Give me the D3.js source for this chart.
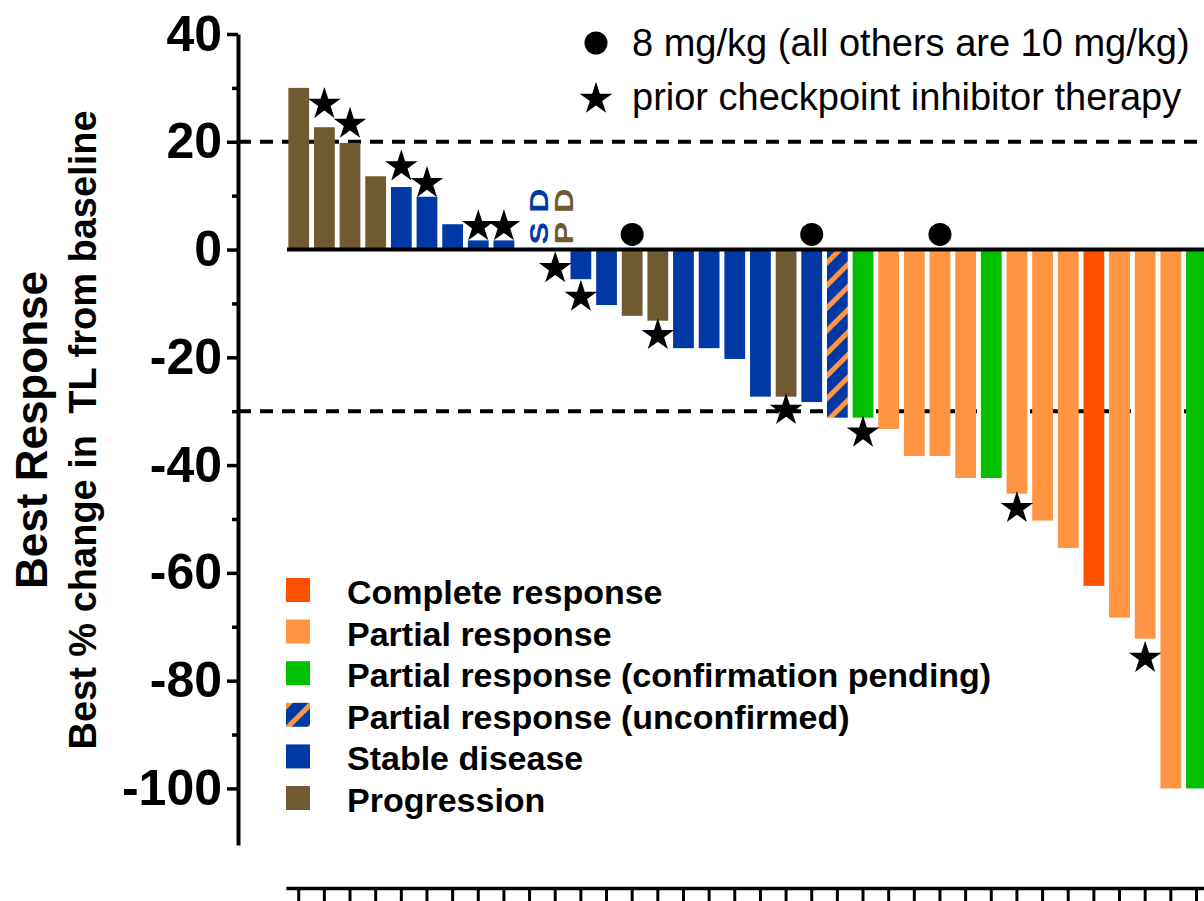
<!DOCTYPE html>
<html>
<head>
<meta charset="utf-8">
<script src="https://cdn.jsdelivr.net/npm/d3@7"></script>
<style>
  body { margin: 0; background: #fff; }
  text { font-family: Arial, "Liberation Sans", sans-serif; }
</style>
</head>
<body>
<div id="chart"></div>
<script>
// best % change per patient, left to right
var values = [30, 22.7, 19.8, 13.6, 11.6, 9.8, 4.7, 1.7, 1.7, 0, 0,
    -5.5, -10.3, -12.3, -13.2, -18.3, -18.3, -20.3, -27.3, -27.3, -28.3,
    -31.2, -31.2, -33.3, -38.3, -38.3, -42.4, -42.4, -45.3, -50.3, -55.4,
    -62.4, -68.3, -72.2, -100, -100];
var responses = ["PD", "PD", "PD", "PD", "SD", "SD", "SD", "SD", "SD", "SD", "PD",
    "SD", "SD", "PD", "PD", "SD", "SD", "SD", "SD", "PD", "SD",
    "PRu", "PRp", "PR", "PR", "PR", "PR", "PRp", "PR", "PR", "PR",
    "CR", "PR", "PR", "PR", "PRp"];

// prior checkpoint inhibitor therapy (star markers)
var star_cols = [1, 2, 4, 5, 7, 8, 10, 11, 14, 19, 22, 28, 33];
var star_vals = [27, 23.3, 15.4, 12.3, 4.3, 4.3, -3.5, -8.8, -15.9, -29.8, -34, -48, -75.8];

// 8 mg/kg patients (circle markers)
var circle_cols = [13, 20, 25];
var circle_vals = [2.8, 2.8, 2.8];

// SD / PD labels for the zero-change patients
var zero_labels = [{col: 9, text: "S D", resp: "SD"}, {col: 10, text: "P D", resp: "PD"}];

var legend_keys = ["CR", "PR", "PRp", "PRu", "SD", "PD"];
var legend_names = ["Complete response", "Partial response", "Partial response (confirmation pending)",
    "Partial response (unconfirmed)", "Stable disease", "Progression"];

var major_ticks = [40, 20, 0, -20, -40, -60, -80, -100];
var minor_ticks = [30, 10, -10, -30, -50, -70, -90];
var ref_lines = [20, -30];

var colors = {CR: "#ff5000", PR: "#ff9443", PRp: "#00c000", PRu: "url(#hatch)", SD: "#0039a6", PD: "#705a32"};

const width = 1204, height = 901;

var svg = d3.select("#chart").append("svg").attr("width", width).attr("height", height);
svg.append("rect").attr("width", width).attr("height", height).attr("fill", "#fff");

// hatch for unconfirmed partial response
var pat = svg.append("defs").append("pattern").attr("id", "hatch")
    .attr("patternUnits", "userSpaceOnUse").attr("width", 16).attr("height", 16)
    .attr("patternTransform", "rotate(45)");
pat.append("rect").attr("width", 16).attr("height", 16).attr("fill", colors.SD);
pat.append("rect").attr("width", 5).attr("height", 16).attr("fill", colors.PR);

var y = d3.scaleLinear().domain([-110.5, 40]).range([845, 34]);
var x = d3.scaleBand().domain(d3.range(values.length)).range([285.9, 1209.3])
    .paddingInner(0.19).paddingOuter(0.095);
var bw = x.bandwidth();

// dashed reference lines (behind the bars)
svg.selectAll(".ref").data(ref_lines).enter().append("line")
    .attr("x1", 238).attr("x2", width)
    .attr("y1", d => y(d)).attr("y2", d => y(d))
    .attr("stroke", "#000").attr("stroke-width", 4).attr("stroke-dasharray", "13,9");

// bars
svg.selectAll(".bar").data(values).enter().append("rect")
    .attr("x", (d, i) => x(i))
    .attr("width", bw)
    .attr("y", d => y(Math.max(0, d)))
    .attr("height", d => Math.abs(y(d) - y(0)))
    .attr("fill", (d, i) => colors[responses[i]]);

// zero line
svg.append("line").attr("x1", 287).attr("x2", width).attr("y1", y(0)).attr("y2", y(0))
    .attr("stroke", "#000").attr("stroke-width", 4);

// y axis
var yAxis = svg.append("g").attr("transform", "translate(238,0)")
    .call(d3.axisLeft(y).tickValues(major_ticks).tickSize(11).tickSizeOuter(0).tickPadding(5)
        .tickFormat(d => String(d)));
yAxis.select(".domain").attr("stroke-width", 4);
yAxis.selectAll(".tick line").attr("stroke-width", 3.5);
yAxis.selectAll(".tick text").attr("font-size", 50).attr("font-weight", "bold").attr("fill", "#000")
    .style("font-family", "Arial, 'Liberation Sans', sans-serif");

var yMinor = svg.append("g").attr("transform", "translate(238,0)")
    .call(d3.axisLeft(y).tickValues(minor_ticks).tickSize(6).tickSizeOuter(0).tickFormat(""));
yMinor.select(".domain").remove();
yMinor.selectAll(".tick line").attr("stroke-width", 3.5);

// x axis (no labels)
var xAxis = svg.append("g").attr("transform", "translate(0,888)")
    .call(d3.axisBottom(x).tickSize(14).tickSizeOuter(0).tickFormat(""));
xAxis.select(".domain").attr("stroke-width", 3.5);
xAxis.selectAll(".tick line").attr("stroke-width", 3);

// markers
var star = d3.symbol().type(d3.symbolStar).size(330);
svg.selectAll(".star").data(star_cols).enter().append("path")
    .attr("d", star)
    .attr("transform", (d, i) => "translate(" + (x(d) + bw / 2) + "," + y(star_vals[i]) + ")")
    .attr("fill", "#000");

svg.selectAll(".dot").data(circle_cols).enter().append("circle")
    .attr("cx", d => x(d) + bw / 2)
    .attr("cy", (d, i) => y(circle_vals[i]))
    .attr("r", 11.5).attr("fill", "#000");

svg.selectAll(".zl").data(zero_labels).enter().append("text")
    .attr("transform", d => "translate(" + (x(d.col) + bw / 2 + 18) + "," + (y(0) - 5) + ") rotate(-90)")
    .attr("font-size", 26).attr("font-weight", "bold")
    .attr("textLength", 56).attr("lengthAdjust", "spacingAndGlyphs")
    .attr("fill", d => colors[d.resp])
    .text(d => d.text);

// top-right key
svg.append("circle").attr("cx", 596).attr("cy", 43).attr("r", 11.5).attr("fill", "#000");
svg.append("path").attr("d", star).attr("transform", "translate(596,99)").attr("fill", "#000");
svg.append("text").attr("x", 632).attr("y", 56).attr("font-size", 38)
    .text("8 mg/kg (all others are 10 mg/kg)");
svg.append("text").attr("x", 632).attr("y", 110).attr("font-size", 38)
    .text("prior checkpoint inhibitor therapy");

// response legend
var legend = svg.append("g");
var rows = legend.selectAll("g").data(legend_keys).enter().append("g")
    .attr("transform", (d, i) => "translate(286," + (578 + i * 41.6) + ")");
rows.append("rect").attr("width", 24).attr("height", 24).attr("fill", d => colors[d]);
rows.append("text").attr("x", 61).attr("y", 26).attr("font-size", 34).attr("font-weight", "bold")
    .text((d, i) => legend_names[i]);

// y axis titles
svg.append("text").attr("transform", "translate(47,430) rotate(-90)")
    .attr("text-anchor", "middle").attr("font-size", 44).attr("font-weight", "bold")
    .text("Best Response");
svg.append("text").attr("transform", "translate(96,430) rotate(-90)")
    .attr("text-anchor", "middle").attr("font-size", 38).attr("font-weight", "bold")
    .style("white-space", "pre")
    .text("Best % change in  TL from baseline");
</script>
</body>
</html>
